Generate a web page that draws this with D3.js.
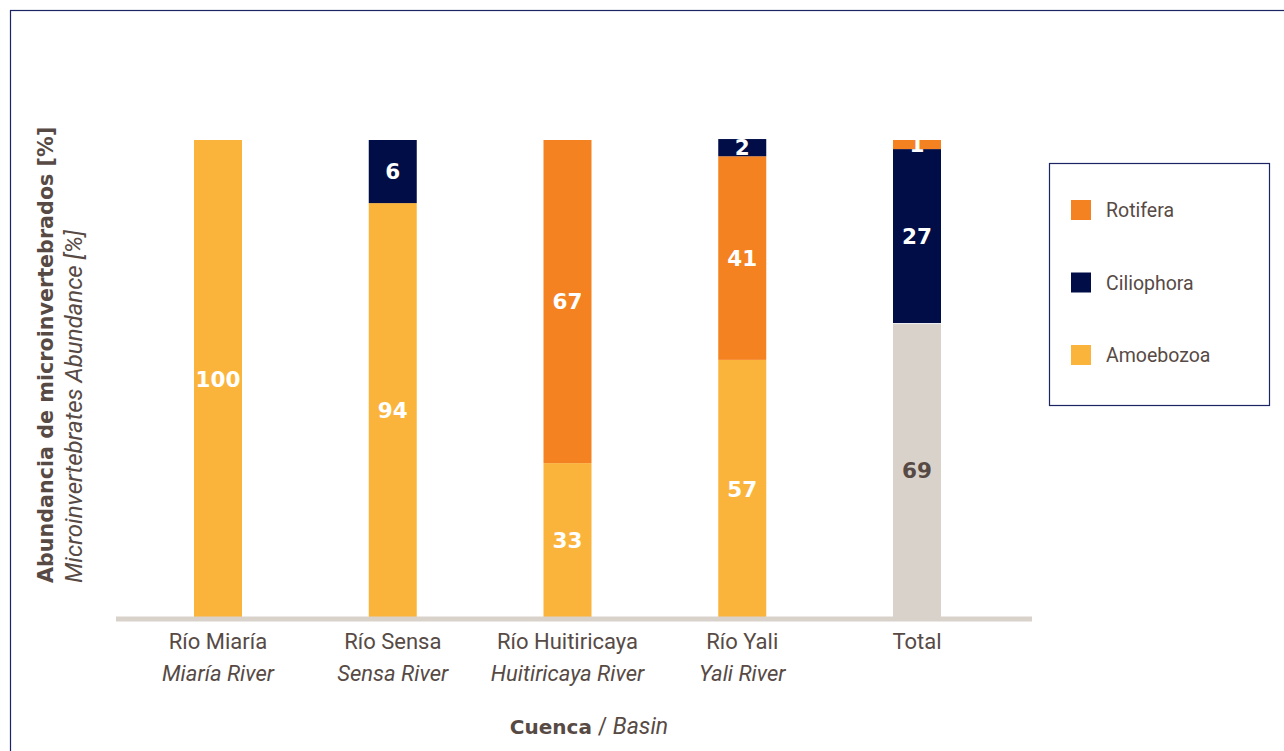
<!DOCTYPE html>
<html>
<head>
<meta charset="utf-8">
<script src="https://cdn.jsdelivr.net/npm/d3@7"></script>
<style>
  html, body { margin: 0; padding: 0; background: #fff; }
  svg { display: block; font-family: Roboto, "Noto Sans", sans-serif; }
</style>
</head>
<body>
<svg id="chart" width="1284" height="751"></svg>
<script>
// ---- Data ----
const categoriesEs = ["Río Miaría", "Río Sensa", "Río Huitiricaya", "Río Yali", "Total"];
const categoriesEn = ["Miaría River", "Sensa River", "Huitiricaya River", "Yali River", ""];
const seriesNames = ["Amoebozoa", "Ciliophora", "Rotifera"];
// drawn segment heights (%)
const amoebozoa  = [100, 86.8, 32.4, 54.0, 61.7];
const ciliophora = [0, 13.2, 0, 3.6, 36.4];
const rotifera   = [0, 0, 67.6, 42.6, 1.9];
// printed labels
const amoebozoaLabels  = ["100", "94", "33", "57", "69"];
const ciliophoraLabels = ["", "6", "", "2", "27"];
const rotiferaLabels   = ["", "", "67", "41", "1"];
// stacking order (bottom to top) per bar
const stackOrders = [
  ["Amoebozoa", "Ciliophora", "Rotifera"],
  ["Amoebozoa", "Ciliophora", "Rotifera"],
  ["Amoebozoa", "Ciliophora", "Rotifera"],
  ["Amoebozoa", "Rotifera", "Ciliophora"],
  ["Amoebozoa", "Ciliophora", "Rotifera"]
];
const legendOrder = ["Rotifera", "Ciliophora", "Amoebozoa"];

const colors = { Amoebozoa: "#fbb43b", Ciliophora: "#000d47", Rotifera: "#f58220" };
const totalBaseColor = "#d9d2cb";
const textColor = "#574a45";
const boldFont = "'DejaVu Sans', Roboto, sans-serif";

const svg = d3.select("#chart");

// outer frame
svg.append("rect").attr("x", 10.5).attr("y", 10.5).attr("width", 1290).attr("height", 800)
  .attr("fill", "none").attr("stroke", "#1c2563").attr("stroke-width", 1.2);

const x = d3.scalePoint().domain(categoriesEs).range([218, 917]);
const y = d3.scaleLinear().domain([0, 100]).range([618, 140]);
const barW = 48;

const valueOf = { Amoebozoa: amoebozoa, Ciliophora: ciliophora, Rotifera: rotifera };
const labelOf = { Amoebozoa: amoebozoaLabels, Ciliophora: ciliophoraLabels, Rotifera: rotiferaLabels };

// build segments with per-bar stacking order
const segments = [];
categoriesEs.forEach((c, i) => {
  let acc = 0;
  stackOrders[i].forEach(key => {
    const v = valueOf[key][i];
    segments.push({ cat: c, key, y0: acc, y1: acc + v, label: labelOf[key][i] });
    acc += v;
  });
});

const g = svg.append("g");
segments.filter(s => s.y1 > s.y0).forEach(s => {
  const isTotalBase = s.cat === "Total" && s.key === "Amoebozoa";
  g.append("rect")
    .attr("x", x(s.cat) - barW / 2)
    .attr("y", y(s.y1) + (isTotalBase ? 1 : 0))
    .attr("width", barW)
    .attr("height", y(s.y0) - y(s.y1) - (isTotalBase ? 1 : 0))
    .attr("fill", isTotalBase ? totalBaseColor : colors[s.key]);
});

// axis baseline
svg.append("line").attr("x1", 116).attr("x2", 1032).attr("y1", y(0) + 1).attr("y2", y(0) + 1)
  .attr("stroke", "#d9d2cb").attr("stroke-width", 5);

// value labels
segments.filter(s => s.label).forEach(s => {
  const isTotalBase = s.cat === "Total" && s.key === "Amoebozoa";
  svg.append("text")
    .attr("x", x(s.cat))
    .attr("y", (y(s.y0) + y(s.y1)) / 2)
    .attr("dy", "0.36em")
    .attr("text-anchor", "middle")
    .style("font-family", boldFont)
    .attr("font-size", 21.5).attr("font-weight", 700)
    .attr("fill", isTotalBase ? textColor : "#ffffff")
    .text(s.label);
});

// x tick labels
categoriesEs.forEach((c, i) => {
  svg.append("text").attr("x", x(c)).attr("y", 649).attr("text-anchor", "middle")
    .attr("font-size", 22).attr("fill", textColor).text(c);
  if (categoriesEn[i]) {
    svg.append("text").attr("x", x(c)).attr("y", 681).attr("text-anchor", "middle")
      .attr("font-size", 22).attr("font-style", "italic").attr("fill", textColor).text(categoriesEn[i]);
  }
});

// x axis title
const xt = svg.append("text").attr("x", 589).attr("y", 734).attr("text-anchor", "middle")
  .attr("font-size", 23).attr("fill", textColor);
xt.append("tspan").attr("font-weight", 700).style("font-family", boldFont)
  .attr("font-size", 20).text("Cuenca");
xt.append("tspan").text(" / ");
xt.append("tspan").attr("font-style", "italic").text("Basin");

// y axis titles
svg.append("text").attr("transform", "translate(53,583) rotate(-90)")
  .style("font-family", boldFont)
  .attr("font-size", 20.7).attr("font-weight", 700).attr("fill", textColor)
  .text("Abundancia de microinvertebrados [%]");
svg.append("text").attr("transform", "translate(82,583) rotate(-90)")
  .attr("font-size", 24).attr("font-style", "italic").attr("fill", textColor)
  .text("Microinvertebrates Abundance [%]");

// legend
svg.append("rect").attr("x", 1049.5).attr("y", 163.5).attr("width", 220).attr("height", 242)
  .attr("fill", "#fff").attr("stroke", "#1c2563").attr("stroke-width", 1.2);
const lg = svg.append("g");
legendOrder.forEach((name, i) => {
  const yy = 200 + i * 72.5;
  lg.append("rect").attr("x", 1071).attr("y", yy).attr("width", 20).attr("height", 20).attr("fill", colors[name]);
  lg.append("text").attr("x", 1106).attr("y", yy + 10).attr("dy", "0.36em")
    .attr("font-size", 19.5).attr("fill", textColor).text(name);
});
</script>
</body>
</html>
